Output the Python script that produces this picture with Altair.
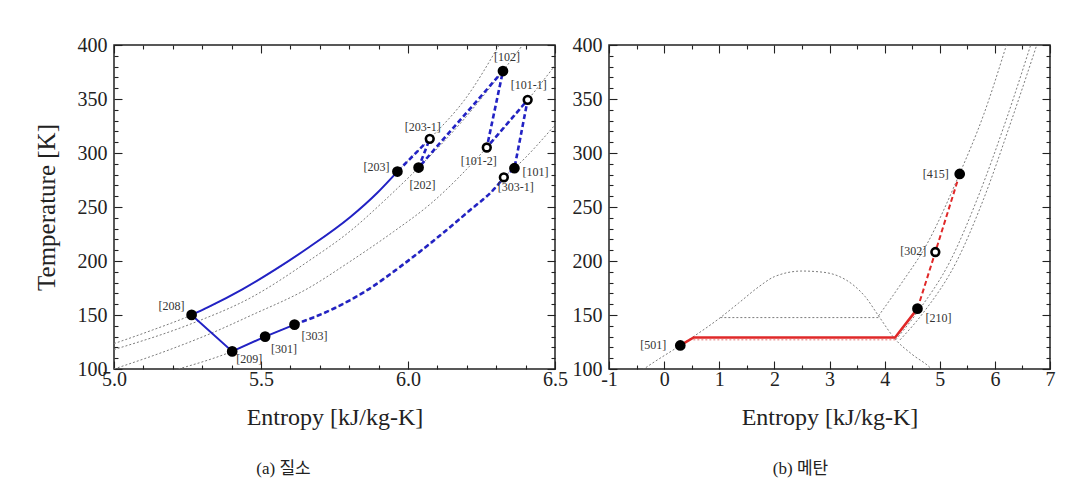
import altair as alt
import pandas as pd

INK = "#222222"
GRAY = "#7c7c7c"
BLUE = "#2222c4"
RED = "#e02828"
PINK = "#eba3a3"
FONT = "Liberation Serif"
CAP_FONT = "'Liberation Serif', 'Noto Sans CJK KR'"
W, H = 441, 324

# ---------------- (a) nitrogen ----------------
N2_ISO_HP_S = [5.0, 5.13, 5.264, 5.435, 5.662, 5.895, 5.964, 6.074, 6.2, 6.31]
N2_ISO_HP_T = [123.5, 136, 150, 173.5, 212.5, 263, 283, 313, 352, 400]
N2_ISO_MP_S = [5.0, 5.264, 5.465, 5.662, 5.805, 5.92, 6.036, 6.18, 6.323, 6.39]
N2_ISO_MP_T = [118, 142, 166, 200, 228, 256, 286.5, 328, 376, 400]
N2_ISO_IP_S = [5.0, 5.2, 5.33, 5.465, 5.662, 5.8, 5.95, 6.077, 6.268, 6.407, 6.5]
N2_ISO_IP_T = [100, 119, 133, 149.5, 175, 199, 227, 253, 305, 349, 381]
N2_ISO_LP_S = [5.219, 5.402, 5.514, 5.614, 5.748, 5.861, 5.975, 6.088, 6.202, 6.304, 6.326, 6.362, 6.5]
N2_ISO_LP_T = [100, 116.3, 130, 141.1, 156, 173, 195, 219, 245, 270, 277.5, 285.9, 326]

N2_HP_COOL_S = [5.322, 5.435, 5.548, 5.662, 5.805, 5.895]
N2_HP_COOL_T = [157.5, 173.5, 192, 212.5, 241, 263]
N2_LP_HEAT_S = [5.748, 5.861, 5.975, 6.088, 6.202, 6.304]
N2_LP_HEAT_T = [156, 173, 195, 219, 245, 270]

N2_NAMES = ["[208]", "[209]", "[301]", "[303]", "[203]", "[202]", "[203-1]",
            "[102]", "[101-1]", "[101-2]", "[101]", "[303-1]"]
N2_S = [5.264, 5.402, 5.514, 5.614, 5.964, 6.036, 6.074, 6.323, 6.407, 6.268, 6.362, 6.326]
N2_T = [150.1, 116.3, 130, 141.1, 282.8, 286.5, 313.1, 375.9, 349.2, 305.1, 285.9, 277.5]
N2_OPEN = [False, False, False, False, False, False, True, False, True, True, False, True]
N2_SOLID_SEQ = ["[208]", "[209]", "[301]", "[303]"]
N2_DASH_SEQ = ["[303-1]", "[101]", "[101-1]", "[101-2]", "[102]", "[202]", "[203-1]", "[203]"]

N2_X_MAJOR = [5.0, 5.5, 6.0, 6.5]
N2_X_MINOR = [5.1, 5.2, 5.3, 5.4, 5.6, 5.7, 5.8, 5.9, 6.1, 6.2, 6.3, 6.4]

# ---------------- (b) methane ----------------
CH4_DOME_S = [-0.45, -0.34, 0.29, 1.02, 1.35, 1.714, 2.0, 2.5, 2.9, 3.163, 3.45, 3.647, 3.89, 4.19, 4.5, 4.82, 4.87]
CH4_DOME_T = [97, 101, 121.8, 147.6, 161, 176, 185.5, 190.7, 189.5, 186, 177, 167, 149.2, 127.7, 113.5, 101.5, 99]
CH4_ISO_IN_S = [1.02, 3.89]
CH4_ISO_IN_T = [147.6, 147.6]
CH4_ISO_A_S = [3.89, 4.3, 4.76, 5.362, 5.8, 6.21]
CH4_ISO_A_T = [149.2, 179, 215, 281, 336, 400]
CH4_ISO_B_S = [4.2, 4.6, 5.19, 5.7, 6.2, 6.65]
CH4_ISO_B_T = [127, 153, 200, 260, 330, 400]
CH4_ISO_C_S = [4.28, 4.7, 5.31, 5.8, 6.3, 6.76]
CH4_ISO_C_T = [127, 152, 200, 258, 330, 400]
CH4_PINK_S = [0.53, 4.2]
CH4_PINK_T = [127, 127]

CH4_NAMES = ["[501]", "[210]", "[302]", "[415]"]
CH4_S = [0.293, 4.596, 4.92, 5.362]
CH4_T = [121.8, 155.9, 208.3, 280.6]
CH4_OPEN = [False, False, True, False]
CH4_CORNER_S = [0.536, 4.19]
CH4_CORNER_T = [129.2, 129.2]
CH4_DASH_SEQ = ["[210]", "[302]", "[415]"]

CH4_X_MAJOR = [-1, 0, 1, 2, 3, 4, 5, 6, 7]
CH4_X_MINOR = [-0.5, 0.5, 1.5, 2.5, 3.5, 4.5, 5.5, 6.5]

Y_MAJOR = [100, 150, 200, 250, 300, 350, 400]
Y_MINOR = [v for v in range(110, 400, 10) if v % 50 != 0]

# label placement (style, not data): align, dx, dy
N2_LABEL_POS = {
    "[208]": ("right", -7, -9), "[209]": ("left", 4, 8), "[301]": ("left", 6, 12),
    "[303]": ("left", 7, 11), "[203]": ("right", -8, -5), "[202]": ("center", 4, 17),
    "[203-1]": ("center", -7, -12), "[102]": ("center", 4, -14), "[101-1]": ("center", 1, -15),
    "[101-2]": ("center", -8, 14), "[101]": ("left", 8, 4), "[303-1]": ("center", 12, 10),
}
CH4_LABEL_POS = {
    "[501]": ("right", -14, 0), "[210]": ("left", 8, 9),
    "[302]": ("right", -9, -1), "[415]": ("right", -11, 0),
}


def rows(name, ss, ts):
    return [{"curve": name, "i": k, "s": s, "T": t} for k, (s, t) in enumerate(zip(ss, ts))]


def frame(name, pts):
    return pd.DataFrame(rows(name, [p[0] for p in pts], [p[1] for p in pts]))


def make_axis(orient, values, size, labels=False, title=None, title_pad=0,
              label_pad=0, label_expr=None, title_size=24):
    kw = dict(orient=orient, values=values, tickSize=size, offset=-size, domain=False,
              grid=False, ticks=True, tickColor=INK, tickWidth=1.1, labels=labels)
    if labels:
        kw.update(labelFont=FONT, labelFontSize=20, labelColor=INK, labelPadding=label_pad,
                  labelFlush=False, labelOverlap=False)
        if label_expr:
            kw["labelExpr"] = label_expr
    if title:
        kw.update(title=title, titleFont=FONT, titleFontSize=title_size, titleFontWeight="normal",
                  titleColor=INK, titlePadding=title_pad)
    else:
        kw["title"] = None
    return alt.Axis(**kw)


def panel(curves, solid_curve, solid_lin, dash_curve, dash_lin, states, label_pos, xdom, xmaj,
          xmin, ytitle, xexpr, caption, cap_dx, color, solid_w, dash_w, extra=None):
    xs = alt.Scale(domain=xdom, nice=False, zero=False)
    ys = alt.Scale(domain=[100, 400], nice=False, zero=False)
    enc = lambda xa, ya: dict(x=alt.X("s:Q", scale=xs, axis=xa), y=alt.Y("T:Q", scale=ys, axis=ya),
                              detail="curve:N", order="i:Q")
    layers = [
        alt.Chart(curves).mark_line(color=GRAY, strokeWidth=1, strokeDash=[2, 2], clip=True,
                                    interpolate="monotone").encode(
            **enc(make_axis("bottom", xmaj, 8, labels=True, label_pad=0, label_expr=xexpr,
                            title="Entropy [kJ/kg-K]", title_pad=16),
                  make_axis("left", Y_MAJOR, 8, labels=True, label_pad=7, title=ytitle,
                            title_pad=18, title_size=25)))
    ]
    if extra is not None:
        layers.append(alt.Chart(extra).mark_line(color=PINK, strokeWidth=1.5, strokeDash=[2, 2]).encode(
            **enc(None, None)))
    if solid_curve is not None:
        layers.append(alt.Chart(solid_curve).mark_line(color=color, strokeWidth=solid_w, clip=True,
                                                       interpolate="monotone").encode(**enc(None, None)))
    layers.append(alt.Chart(solid_lin).mark_line(color=color, strokeWidth=solid_w, clip=True).encode(
        **enc(make_axis("bottom", xmin, 4), make_axis("left", Y_MINOR, 4))))
    if dash_curve is not None:
        layers.append(alt.Chart(dash_curve).mark_line(color=color, strokeWidth=dash_w, strokeDash=[5, 3],
                                                      clip=True, interpolate="monotone").encode(
            **enc(None, None)))
    layers.append(alt.Chart(dash_lin).mark_line(color=color, strokeWidth=dash_w, strokeDash=[5, 3],
                                                clip=True).encode(
        **enc(make_axis("top", xmaj, 8), make_axis("right", Y_MAJOR, 8))))
    layers.append(alt.Chart(states).transform_filter("!datum.open").mark_circle(
        size=115, color="black", opacity=1).encode(
        x=alt.X("s:Q", scale=xs, axis=make_axis("top", xmin, 4)),
        y=alt.Y("T:Q", scale=ys, axis=make_axis("right", Y_MINOR, 4))))
    layers.append(alt.Chart(states).transform_filter("datum.open").mark_point(
        size=60, shape="circle", filled=False, fill="white", stroke="black", strokeWidth=2.6,
        opacity=1).encode(x=alt.X("s:Q", scale=xs, axis=None), y=alt.Y("T:Q", scale=ys, axis=None)))
    for nm, (al, dx, dy) in label_pos.items():
        layers.append(alt.Chart(states).transform_filter(alt.datum.name == nm).mark_text(
            align=al, baseline="middle", dx=dx, dy=dy, font=FONT, fontSize=12, color="#333333").encode(
            x=alt.X("s:Q", scale=xs, axis=None), y=alt.Y("T:Q", scale=ys, axis=None), text="name:N"))
    return alt.layer(*layers).resolve_axis(x="independent", y="independent").properties(
        width=W, height=H,
        title=alt.TitleParams(caption, orient="bottom", anchor="middle", dx=cap_dx, offset=32,
                              font=CAP_FONT, fontSize=17, fontWeight="normal", color=INK))


# ---- nitrogen frames ----
n2_pt = {n: (s, t) for n, s, t in zip(N2_NAMES, N2_S, N2_T)}
n2_curves = pd.DataFrame(rows("hp", N2_ISO_HP_S, N2_ISO_HP_T) + rows("mp", N2_ISO_MP_S, N2_ISO_MP_T)
                         + rows("ip", N2_ISO_IP_S, N2_ISO_IP_T) + rows("lp", N2_ISO_LP_S, N2_ISO_LP_T))
n2_cool = frame("cool", [n2_pt["[208]"]] + list(zip(N2_HP_COOL_S, N2_HP_COOL_T)) + [n2_pt["[203]"]])
n2_expand = frame("expand", [n2_pt[n] for n in N2_SOLID_SEQ])
n2_heat = frame("heat", [n2_pt["[303]"]] + list(zip(N2_LP_HEAT_S, N2_LP_HEAT_T)) + [n2_pt["[303-1]"]])
n2_zig = frame("zig", [n2_pt[n] for n in N2_DASH_SEQ])
n2_states = pd.DataFrame({"name": N2_NAMES, "s": N2_S, "T": N2_T, "open": N2_OPEN})

# ---- methane frames ----
ch4_pt = {n: (s, t) for n, s, t in zip(CH4_NAMES, CH4_S, CH4_T)}
ch4_curves = pd.DataFrame(rows("dome", CH4_DOME_S, CH4_DOME_T) + rows("in", CH4_ISO_IN_S, CH4_ISO_IN_T)
                          + rows("a", CH4_ISO_A_S, CH4_ISO_A_T) + rows("b", CH4_ISO_B_S, CH4_ISO_B_T)
                          + rows("c", CH4_ISO_C_S, CH4_ISO_C_T))
ch4_pink = pd.DataFrame(rows("pink", CH4_PINK_S, CH4_PINK_T))
ch4_solid = frame("liq", [ch4_pt["[501]"]] + list(zip(CH4_CORNER_S, CH4_CORNER_T)) + [ch4_pt["[210]"]])
ch4_dashed = frame("gas", [ch4_pt[n] for n in CH4_DASH_SEQ])
ch4_states = pd.DataFrame({"name": CH4_NAMES, "s": CH4_S, "T": CH4_T, "open": CH4_OPEN})

left = panel(n2_curves, n2_cool, n2_expand, n2_heat, n2_zig, n2_states, N2_LABEL_POS, [5.0, 6.5],
             N2_X_MAJOR, N2_X_MINOR, "Temperature [K]", "format(datum.value, '.1f')", "(a) 질소", -51,
             BLUE, 2, 2.6)
right = panel(ch4_curves, None, ch4_solid, None, ch4_dashed, ch4_states, CH4_LABEL_POS, [-1, 7],
              CH4_X_MAJOR, CH4_X_MINOR, None, "'' + datum.value", "(b) 메탄", -29, RED, 2.6, 2,
              extra=ch4_pink)

chart = alt.hconcat(left, right, spacing=2).properties(
    padding={"left": 25, "top": 26, "right": 5, "bottom": 5}
).configure_view(stroke=INK, strokeWidth=1.5)

chart.save("out.html", embed_options={"renderer": "svg", "actions": False})
